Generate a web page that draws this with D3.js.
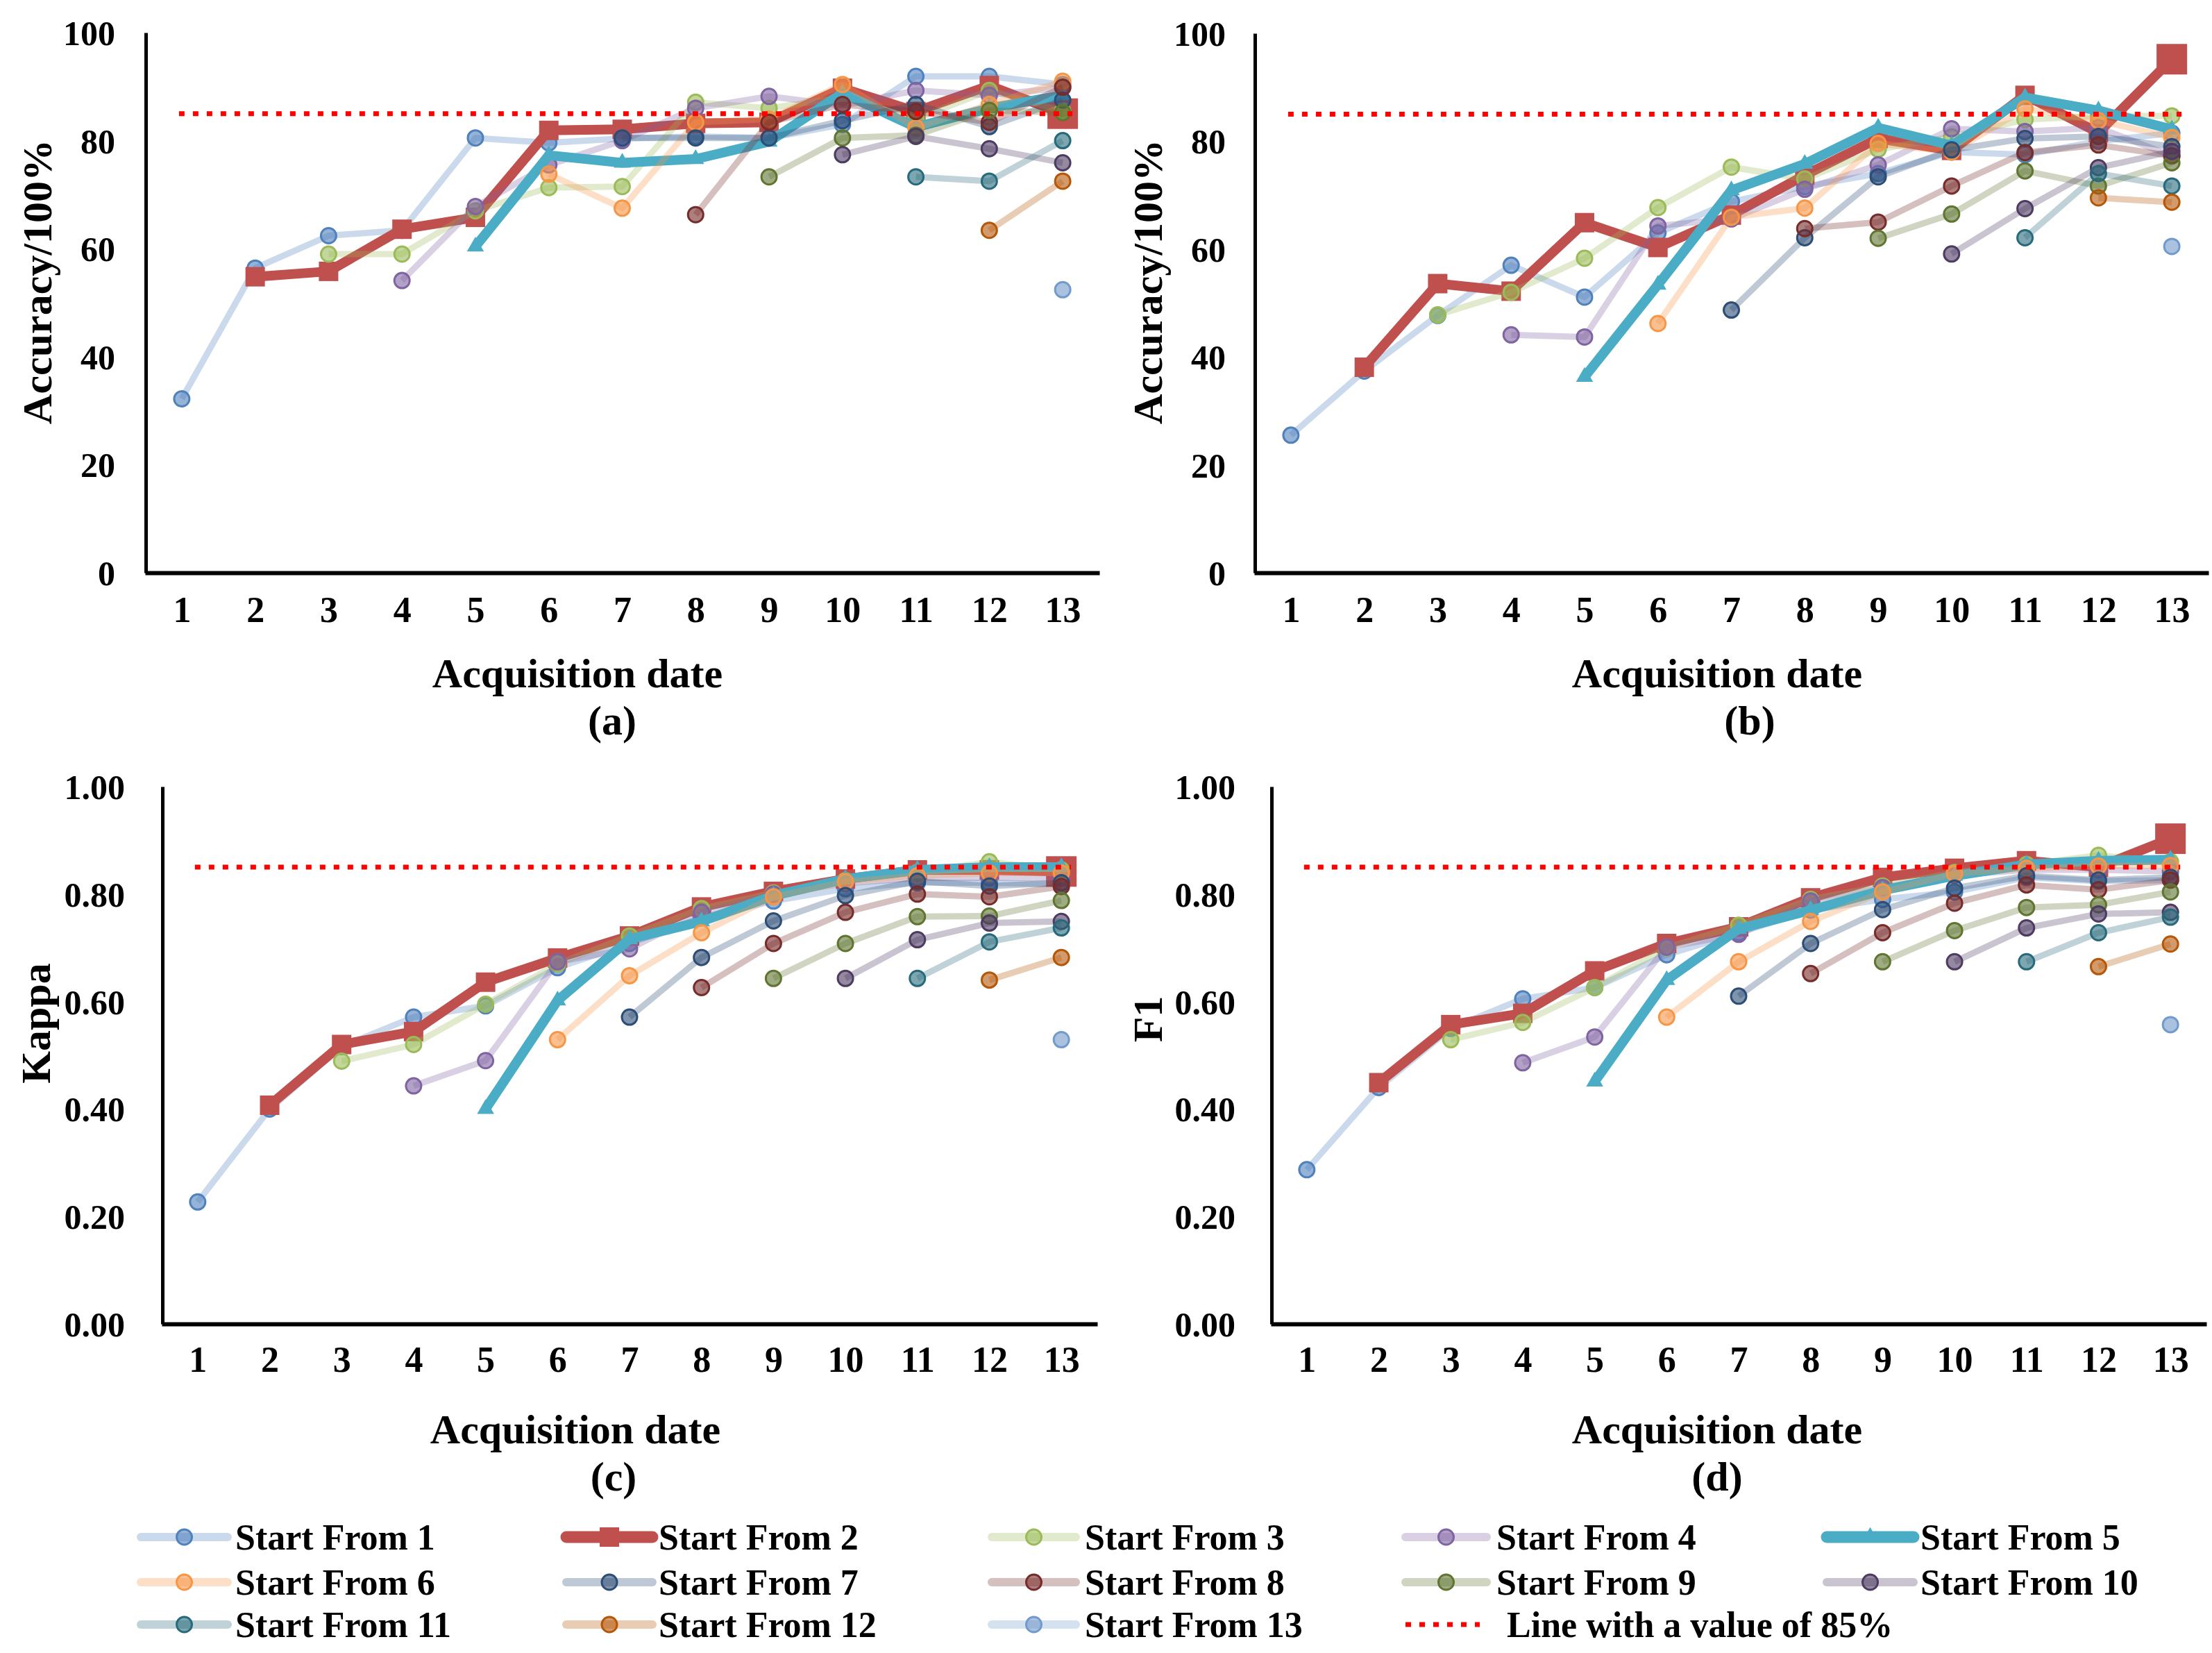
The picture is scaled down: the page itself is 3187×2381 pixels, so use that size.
<!DOCTYPE html>
<html>
<head>
<meta charset="utf-8">
<script src="https://cdn.jsdelivr.net/npm/d3@7"></script>
<style>
  html, body { margin: 0; padding: 0; background: #fff; }
  svg { display: block; }
  text { font-family: "Liberation Serif", "Times New Roman", serif; font-weight: bold; fill: #000; }
</style>
</head>
<body>
<svg id="chart" width="3187" height="2381"></svg>
<script>
// ---------------- DATA ----------------
const dates = [1, 2, 3, 4, 5, 6, 7, 8, 9, 10, 11, 12, 13];
const seriesNames = ["Start From 1", "Start From 2", "Start From 3", "Start From 4", "Start From 5",
  "Start From 6", "Start From 7", "Start From 8", "Start From 9", "Start From 10",
  "Start From 11", "Start From 12", "Start From 13"];
const seriesColors = ["#4F81BD", "#C0504D", "#9BBB59", "#8064A2", "#4BACC6", "#F79646",
  "#2C4D75", "#772C2A", "#5F7530", "#4D3B62", "#276A7C", "#B65708", "#729ACA"];
const thresholdLabel = "Line with a value of 85%";
const _ = null;

// (a) Accuracy/100%
const accuracyA = [
  [32.2, 56.4, 62.4, 63.4, 80.5, 79.6, 80.4, 80.8, 80.5, 83.0, 91.9, 91.9, 90.4],
  [_, 54.8, 55.8, 63.6, 65.8, 81.9, 82.1, 83.2, 83.4, 89.7, 85.4, 90.2, 85.0],
  [_, _, 59.0, 59.0, 67.0, 71.3, 71.5, 87.1, 86.0, 88.0, 84.0, 89.3, 85.5],
  [_, _, _, 54.1, 67.8, 75.5, 80.0, 86.0, 88.2, 86.5, 89.3, 88.4, 89.8],
  [_, _, _, _, 60.4, 77.3, 75.9, 76.6, 79.8, 88.8, 82.5, 86.0, 88.4],
  [_, _, _, _, _, 73.8, 67.5, 83.4, 84.0, 90.4, 82.4, 86.7, 91.0],
  [_, _, _, _, _, _, 80.5, 80.5, 80.5, 83.7, 86.7, 82.6, 87.5],
  [_, _, _, _, _, _, _, 66.3, 83.4, 86.7, 85.4, 83.4, 89.9],
  [_, _, _, _, _, _, _, _, 73.3, 80.5, 81.0, 85.6, 85.2],
  [_, _, _, _, _, _, _, _, _, 77.4, 80.8, 78.5, 75.9],
  [_, _, _, _, _, _, _, _, _, _, 73.3, 72.5, 80.0],
  [_, _, _, _, _, _, _, _, _, _, _, 63.4, 72.5],
  [_, _, _, _, _, _, _, _, _, _, _, _, 52.4]
];
// (b) Accuracy/100%
const accuracyB = [
  [25.5, 37.4, 47.7, 57.0, 51.1, 63.0, 68.8, 71.6, 74.0, 78.0, 77.5, 80.0, 81.5],
  [_, 38.1, 53.6, 52.2, 64.9, 60.3, 66.3, 73.7, 80.5, 78.3, 88.5, 81.6, 95.2],
  [_, _, 47.8, 52.0, 58.3, 67.7, 75.2, 73.0, 78.5, 80.8, 84.0, 84.7, 84.7],
  [_, _, _, 44.1, 43.7, 64.3, 65.6, 71.1, 75.6, 82.3, 81.8, 82.5, 77.3],
  [_, _, _, _, 36.3, 53.4, 70.9, 75.8, 82.5, 79.2, 88.1, 85.7, 82.2],
  [_, _, _, _, _, 46.2, 65.9, 67.6, 79.6, 78.0, 86.0, 83.8, 80.7],
  [_, _, _, _, _, _, 48.7, 62.1, 73.4, 78.4, 80.5, 80.9, 79.0],
  [_, _, _, _, _, _, _, 63.8, 65.0, 71.7, 77.9, 79.3, 77.3],
  [_, _, _, _, _, _, _, _, 62.0, 66.5, 74.5, 71.7, 76.0],
  [_, _, _, _, _, _, _, _, _, 59.1, 67.5, 75.1, 78.1],
  [_, _, _, _, _, _, _, _, _, _, 62.1, 74.0, 71.7],
  [_, _, _, _, _, _, _, _, _, _, _, 69.5, 68.7],
  [_, _, _, _, _, _, _, _, _, _, _, _, 60.5]
];
// (c) Kappa
const kappaC = [
  [0.227, 0.400, 0.516, 0.571, 0.592, 0.663, 0.708, 0.756, 0.787, 0.810, 0.821, 0.821, 0.818],
  [_, 0.407, 0.520, 0.544, 0.636, 0.681, 0.722, 0.776, 0.805, 0.828, 0.845, 0.845, 0.842],
  [_, _, 0.489, 0.520, 0.595, 0.670, 0.722, 0.773, 0.802, 0.825, 0.840, 0.860, 0.845],
  [_, _, _, 0.443, 0.490, 0.674, 0.698, 0.766, 0.800, 0.820, 0.830, 0.830, 0.830],
  [_, _, _, _, 0.400, 0.602, 0.716, 0.749, 0.797, 0.828, 0.845, 0.850, 0.850],
  [_, _, _, _, _, 0.529, 0.648, 0.728, 0.795, 0.823, 0.834, 0.839, 0.839],
  [_, _, _, _, _, _, 0.571, 0.682, 0.750, 0.797, 0.824, 0.815, 0.821],
  [_, _, _, _, _, _, _, 0.626, 0.708, 0.766, 0.800, 0.795, 0.814],
  [_, _, _, _, _, _, _, _, 0.643, 0.708, 0.758, 0.759, 0.788],
  [_, _, _, _, _, _, _, _, _, 0.643, 0.715, 0.746, 0.749],
  [_, _, _, _, _, _, _, _, _, _, 0.643, 0.711, 0.737],
  [_, _, _, _, _, _, _, _, _, _, _, 0.640, 0.682],
  [_, _, _, _, _, _, _, _, _, _, _, _, 0.529]
];
// (d) F1
const f1D = [
  [0.287, 0.440, 0.550, 0.605, 0.626, 0.687, 0.728, 0.770, 0.790, 0.804, 0.831, 0.824, 0.826],
  [_, 0.449, 0.557, 0.578, 0.657, 0.708, 0.739, 0.793, 0.831, 0.848, 0.862, 0.850, 0.903],
  [_, _, 0.529, 0.561, 0.626, 0.700, 0.742, 0.790, 0.815, 0.840, 0.855, 0.872, 0.860],
  [_, _, _, 0.486, 0.534, 0.701, 0.725, 0.787, 0.812, 0.835, 0.845, 0.845, 0.842],
  [_, _, _, _, 0.451, 0.640, 0.735, 0.770, 0.807, 0.834, 0.855, 0.862, 0.864],
  [_, _, _, _, _, 0.571, 0.674, 0.749, 0.804, 0.838, 0.848, 0.852, 0.853],
  [_, _, _, _, _, _, 0.610, 0.708, 0.771, 0.811, 0.834, 0.826, 0.831],
  [_, _, _, _, _, _, _, 0.652, 0.728, 0.783, 0.817, 0.808, 0.826],
  [_, _, _, _, _, _, _, _, 0.674, 0.732, 0.775, 0.780, 0.804],
  [_, _, _, _, _, _, _, _, _, 0.674, 0.737, 0.763, 0.766],
  [_, _, _, _, _, _, _, _, _, _, 0.674, 0.728, 0.757],
  [_, _, _, _, _, _, _, _, _, _, _, 0.665, 0.707],
  [_, _, _, _, _, _, _, _, _, _, _, _, 0.557]
];
const yTicksAccuracy = [0, 20, 40, 60, 80, 100];
const yTicksRatio = [0, 0.2, 0.4, 0.6, 0.8, 1.0];
const thresholdAccuracy = 85;
const thresholdRatio = 0.85;

// ---------------- LAYOUT ----------------
const svg = d3.select("#chart");
const panels = [
  { data: accuracyA, x0: 209, x1: 1584, yTop: 47, yBot: 825, domain: [0, 100], ticks: yTicksAccuracy, fmt: d3.format("d"),
    thr: thresholdAccuracy, yLabel: "Accuracy/100%", yLabelX: 53, yLabelY: 406, tickPad: 44,
    xLabelX: 832, xLabelY: 990, tag: "(a)", tagX: 882, tagY: 1058, xTickY: 53 },
  { data: accuracyB, x0: 1807, x1: 3182, yTop: 48, yBot: 825, domain: [0, 100], ticks: yTicksAccuracy, fmt: d3.format("d"),
    thr: thresholdAccuracy, yLabel: "Accuracy/100%", yLabelX: 1653, yLabelY: 406, tickPad: 42,
    xLabelX: 2474, xLabelY: 990, tag: "(b)", tagX: 2521, tagY: 1058, xTickY: 53 },
  { data: kappaC, x0: 233, x1: 1581, yTop: 1133, yBot: 1907, domain: [0, 1], ticks: yTicksRatio, fmt: d3.format(".2f"),
    thr: thresholdRatio, yLabel: "Kappa", yLabelX: 51, yLabelY: 1474, tickPad: 54,
    xLabelX: 829, xLabelY: 2079, tag: "(c)", tagX: 884, tagY: 2147, xTickY: 51 },
  { data: f1D, x0: 1831, x1: 3179, yTop: 1133, yBot: 1907, domain: [0, 1], ticks: yTicksRatio, fmt: d3.format(".2f"),
    thr: thresholdRatio, yLabel: "F1", yLabelX: 1653, yLabelY: 1468, tickPad: 52,
    xLabelX: 2474, xLabelY: 2079, tag: "(d)", tagX: 2474, tagY: 2147, xTickY: 51 }
];

const LIGHT_W = 9, BOLD_W = 14;
const triangle = d3.symbol().type(d3.symbolTriangle).size(260);

function drawMarker(g, i, x, y, isLast) {
  const c = seriesColors[i];
  if (i === 1) {
    const s = isLast ? 44 : 28;
    g.append("rect").attr("x", x - s / 2).attr("y", y - s / 2).attr("width", s).attr("height", s)
      .attr("fill", c);
  } else if (i === 4) {
    g.append("path").attr("d", triangle).attr("transform", `translate(${x},${y})`).attr("fill", c);
  } else {
    g.append("circle").attr("cx", x).attr("cy", y).attr("r", 11)
      .attr("fill", c).attr("fill-opacity", 0.6)
      .attr("stroke", c).attr("stroke-width", 3);
  }
}

panels.forEach(p => {
  const x = d3.scalePoint().domain(dates).range([p.x0, p.x1]).padding(0.5);
  const y = d3.scaleLinear().domain(p.domain).range([p.yBot, p.yTop]);
  const g = svg.append("g");

  // axes
  const xAxis = g.append("g").attr("transform", `translate(0,${p.yBot})`)
    .call(d3.axisBottom(x).tickSize(0).tickSizeOuter(0));
  xAxis.select(".domain").attr("stroke", "#000").attr("stroke-width", 6);
  xAxis.selectAll("text").attr("y", p.xTickY).attr("dy", "0.35em")
    .style("font-size", "52px").style("font-family", "Liberation Serif").style("font-weight", "bold");

  const yAxis = g.append("g").attr("transform", `translate(${p.x0 + 1},0)`)
    .call(d3.axisLeft(y).tickValues(p.ticks).tickFormat(p.fmt).tickSize(0).tickSizeOuter(0).tickPadding(p.tickPad));
  yAxis.select(".domain").attr("stroke", "#000").attr("stroke-width", 5);
  yAxis.selectAll("text").attr("dy", "0.35em")
    .style("font-size", "50px").style("font-family", "Liberation Serif").style("font-weight", "bold");

  // series
  const line = d3.line().defined(d => d.v !== null).x(d => x(d.d)).y(d => y(d.v));
  p.data.forEach((vals, i) => {
    const pts = vals.map((v, k) => ({ d: dates[k], v }));
    const bold = (i === 1 || i === 4);
    g.append("path").datum(pts).attr("d", line)
      .attr("fill", "none").attr("stroke", seriesColors[i])
      .attr("stroke-opacity", bold ? 1 : 0.3)
      .attr("stroke-width", bold ? BOLD_W : LIGHT_W)
      .attr("stroke-linejoin", "round");
    const valid = pts.filter(d => d.v !== null);
    const mg = g.append("g");
    valid.forEach((d, k) => drawMarker(mg, i, x(d.d), y(d.v), k === valid.length - 1));
  });

  // threshold line
  g.append("line")
    .attr("x1", x(dates[0]) - 4).attr("x2", x(dates[dates.length - 1]) + 14)
    .attr("y1", y(p.thr)).attr("y2", y(p.thr))
    .attr("stroke", "#FF0000").attr("stroke-width", 7).attr("stroke-dasharray", "8 12");

  // labels
  g.append("text").attr("transform", `translate(${p.yLabelX},${p.yLabelY}) rotate(-90)`)
    .attr("text-anchor", "middle").attr("dy", "0.35em").style("font-size", "60px").text(p.yLabel);
  g.append("text").attr("x", p.xLabelX).attr("y", p.xLabelY).attr("text-anchor", "middle")
    .style("font-size", "60px").text("Acquisition date");
  g.append("text").attr("x", p.tagX).attr("y", p.tagY).attr("text-anchor", "middle")
    .style("font-size", "60px").text(p.tag);
});

// ---------------- LEGEND ----------------
const legRows = [2214, 2279, 2340];
const legCols = [{ l0: 203, l1: 328, t: 339 }, { l0: 816, l1: 940, t: 949 }, { l0: 1429, l1: 1550, t: 1563 },
  { l0: 2025, l1: 2142, t: 2156 }, { l0: 2632, l1: 2757, t: 2767 }];
const leg = svg.append("g");
seriesNames.forEach((name, i) => {
  const col = legCols[i % 5], yy = legRows[Math.floor(i / 5)];
  const bold = (i === 1 || i === 4);
  leg.append("line").attr("x1", col.l0).attr("x2", col.l1).attr("y1", yy).attr("y2", yy)
    .attr("stroke", seriesColors[i]).attr("stroke-opacity", bold ? 1 : 0.3)
    .attr("stroke-width", bold ? 17 : 12).attr("stroke-linecap", "round");
  drawMarker(leg, i, (col.l0 + col.l1) / 2, yy, false);
  leg.append("text").attr("x", col.t).attr("y", yy).attr("dy", "0.35em")
    .style("font-size", "52px").text(name);
});
{
  const col = legCols[3], yy = legRows[2];
  leg.append("line").attr("x1", col.l0).attr("x2", col.l0 + 107).attr("y1", yy).attr("y2", yy)
    .attr("stroke", "#FF0000").attr("stroke-width", 7).attr("stroke-dasharray", "8 12");
  leg.append("text").attr("x", 2171).attr("y", yy).attr("dy", "0.35em")
    .style("font-size", "52px").text(thresholdLabel);
}
</script>
</body>
</html>
